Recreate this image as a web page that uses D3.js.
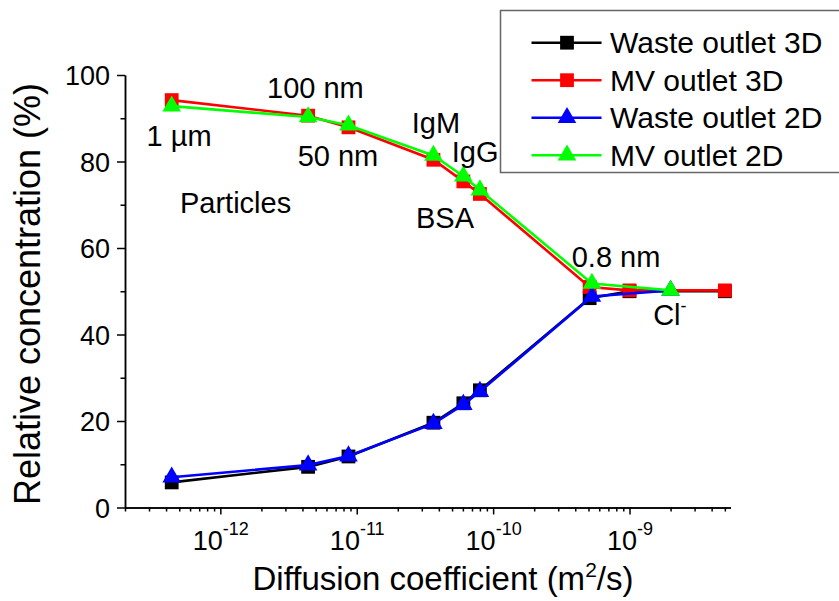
<!DOCTYPE html>
<html>
<head>
<meta charset="utf-8">
<script src="https://cdn.jsdelivr.net/npm/d3@7"></script>
<style>
  body { margin: 0; background: #fff; }
  svg { display: block; }
  svg text { font-family: "Liberation Sans", Arial, sans-serif; fill: #000; }
</style>
</head>
<body>
<svg id="chart" width="839" height="601"></svg>
<script>
// diffusion coefficients (m2/s) and relative concentrations (%)
let coef3D = [4.4e-13, 4.4e-12, 8.7e-12, 3.65e-11, 6.05e-11, 8.0e-11, 5.1e-10, 1.0e-9, 5.0e-9];
let waste3D = [5.8, 9.4, 11.8, 19.6, 24.1, 27.1, 48.4, 50.0, 50.0];
let mv3D = [94.2, 90.6, 87.9, 80.4, 75.4, 72.5, 51.0, 50.2, 50.2];
let coef2D = [4.4e-13, 4.4e-12, 8.7e-12, 3.65e-11, 6.05e-11, 8.0e-11, 5.3e-10, 2.0e-9];
let waste2D = [7.0, 9.8, 11.9, 19.4, 23.8, 26.8, 48.8, 50.2];
let mv2D = [92.8, 90.3, 88.4, 81.4, 76.6, 73.4, 51.8, 50.2];

let seriesNames = ['Waste outlet 3D', 'MV outlet 3D', 'Waste outlet 2D', 'MV outlet 2D'];
let seriesColors = ['#000000', '#ff0000', '#0000ff', '#00ff00'];
let seriesShapes = ['square', 'square', 'triangle', 'triangle'];

let yTicks = [0, 20, 40, 60, 80, 100];
let yMinor = [10, 30, 50, 70, 90];
let xMajor = [1e-12, 1e-11, 1e-10, 1e-9];

// text labels placed at data coordinates (left end of baseline)
let labels = [
  {text: '1 µm', x: 2.88e-13, y: 83.6},
  {text: '100 nm', x: 2.2e-12, y: 94.6},
  {text: '50 nm', x: 3.69e-12, y: 79.0},
  {text: 'Particles', x: 5.06e-13, y: 68.0},
  {text: 'IgM', x: 2.53e-11, y: 86.5},
  {text: 'IgG', x: 4.97e-11, y: 80.0},
  {text: 'BSA', x: 2.72e-11, y: 64.6},
  {text: '0.8 nm', x: 3.77e-10, y: 55.7},
  {text: 'Cl', sup: '-', x: 1.49e-9, y: 42.2}
];

let series = [
  {x: coef3D, y: waste3D},
  {x: coef3D, y: mv3D},
  {x: coef2D, y: waste2D},
  {x: coef2D, y: mv2D}
];

let svg = d3.select('#chart');
let x = d3.scaleLog().domain([2e-13, 5.5e-9]).range([125, 730.5]);
let y = d3.scaleLinear().domain([0, 100]).range([507.5, 75]);

// x axis: minor then major ticks
let minor = x.ticks().filter(d => xMajor.indexOf(d) < 0);
svg.append('g')
  .attr('transform', 'translate(0,' + y(0) + ')')
  .call(d3.axisBottom(x).tickValues(minor).tickSize(4).tickSizeOuter(0).tickFormat(''));
let gx = svg.append('g')
  .attr('transform', 'translate(0,' + y(0) + ')')
  .call(d3.axisBottom(x).tickValues(xMajor).tickSize(7).tickSizeOuter(0).tickFormat(''));
gx.attr('font-size', null).attr('font-family', null);
gx.selectAll('.tick text').remove();
gx.selectAll('.tick').append('text')
  .attr('y', 42.5)
  .attr('text-anchor', 'middle')
  .attr('font-size', 27)
  .style('font-size', '27px')
  .each(function (d) {
    let t = d3.select(this);
    t.append('tspan').text('10');
    t.append('tspan').attr('dy', -15).attr('font-size', 18).style('font-size', '18px')
      .text(String(Math.round(Math.log10(d))));
  });

// y axis
svg.append('g')
  .attr('transform', 'translate(' + x(2e-13) + ',0)')
  .call(d3.axisLeft(y).tickValues(yMinor).tickSize(4.5).tickSizeOuter(0).tickFormat(''));
let gy = svg.append('g')
  .attr('transform', 'translate(' + x(2e-13) + ',0)')
  .call(d3.axisLeft(y).tickValues(yTicks).tickSize(8).tickSizeOuter(0));
gy.selectAll('text').style('font-size', '27px').attr('x', -15).attr('dy', '0.36em');

svg.selectAll('.domain, .tick line').attr('stroke', '#000').attr('stroke-width', 1.5);

// axis titles
svg.append('text')
  .attr('transform', 'translate(40,294) rotate(-90)')
  .attr('text-anchor', 'middle')
  .style('font-size', '36px')
  .text('Relative concentration (%)');
let xt = svg.append('text')
  .attr('x', 443)
  .attr('y', 590)
  .attr('text-anchor', 'middle')
  .style('font-size', '33px');
xt.append('tspan').text('Diffusion coefficient (m');
xt.append('tspan').attr('dy', -13).style('font-size', '21px').text('2');
xt.append('tspan').attr('dy', 13).text('/s)');

// marker shapes
let sym = {
  square: d3.symbol().type(d3.symbolSquare).size(190),
  triangle: d3.symbol().type(d3.symbolTriangle).size(150)
};

let line = d3.line();
series.forEach((s, i) => {
  let pts = s.x.map((v, j) => [x(v), y(s.y[j])]);
  let g = svg.append('g');
  g.append('path')
    .attr('d', line(pts))
    .attr('fill', 'none')
    .attr('stroke', seriesColors[i])
    .attr('stroke-width', 2.6);
  g.selectAll('path.pt')
    .data(pts)
    .enter()
    .append('path')
    .attr('class', 'pt')
    .attr('transform', d => 'translate(' + d[0] + ',' + d[1] + ')')
    .attr('d', sym[seriesShapes[i]]())
    .attr('fill', seriesColors[i]);
});

// annotations
labels.forEach(l => {
  let t = svg.append('text')
    .attr('x', x(l.x))
    .attr('y', y(l.y))
    .style('font-size', '29px')
    .text(l.text);
  if (l.sup) {
    t.append('tspan').attr('dy', -13).style('font-size', '18px').text(l.sup);
  }
});

// legend
let legend = svg.append('g');
legend.append('rect')
  .attr('x', 500.5)
  .attr('y', 10.5)
  .attr('width', 345)
  .attr('height', 162)
  .attr('fill', '#fff')
  .attr('stroke', '#666')
  .attr('stroke-width', 1.5);
let item = legend.selectAll('g.item')
  .data(seriesNames)
  .enter()
  .append('g')
  .attr('class', 'item')
  .attr('transform', (d, i) => 'translate(0,' + (42.7 + i * 37.5) + ')');
item.append('line')
  .attr('x1', 531.5)
  .attr('x2', 601.5)
  .attr('stroke', (d, i) => seriesColors[i])
  .attr('stroke-width', 2.6);
item.append('path')
  .attr('transform', 'translate(567,0)')
  .attr('d', (d, i) => sym[seriesShapes[i]]())
  .attr('fill', (d, i) => seriesColors[i]);
item.append('text')
  .attr('x', 610)
  .attr('y', 10.5)
  .style('font-size', '30px')
  .text(d => d);
</script>
</body>
</html>
